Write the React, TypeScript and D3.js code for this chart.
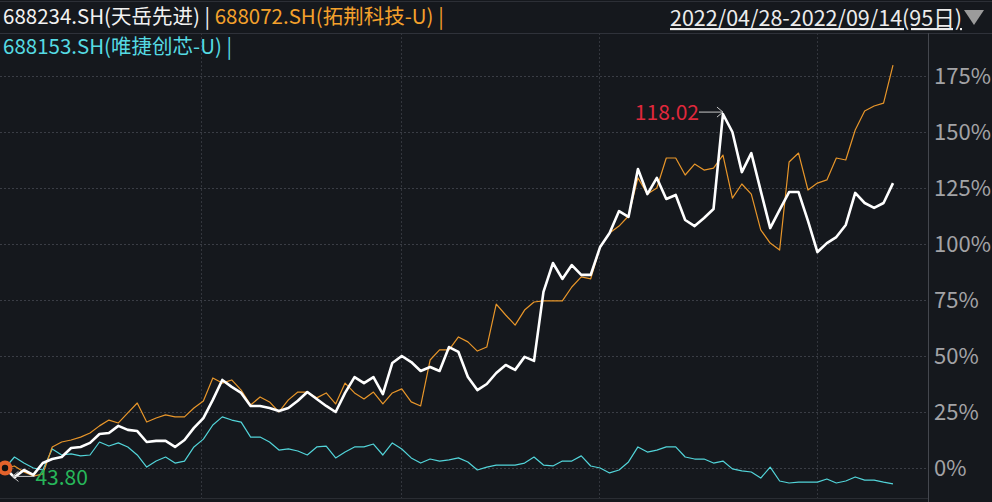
import React, { useEffect, useRef } from 'react';
import * as d3 from 'd3';

// cumulative change (%) since 2022/04/28, one value per trading day
const tianyue = [
  0, -4.2, -0.9, -3.1, 2.2, 4.0, 4.9, 8.9, 9.4, 11.2,
  15.2, 15.6, 18.8, 17.0, 16.5, 11.6, 12.1, 12.1, 9.4, 12.5,
  17.9, 22.3, 30.4, 39.3, 36.2, 33.5, 27.7, 27.7, 26.8, 25.4,
  26.8, 30.0, 33.9, 30.8, 27.7, 25.0, 33.5, 40.6, 37.9, 40.6,
  33.0, 46.9, 50.0, 47.3, 43.3, 45.1, 43.3, 54.0, 51.8, 40.6,
  34.8, 37.5, 42.4, 46.0, 43.8, 49.6, 47.8, 78.6, 91.5, 84.4,
  90.6, 86.2, 86.2, 98.7, 104.9, 114.7, 112.1, 133.5, 122.3, 129.5,
  120.1, 121.9, 110.7, 108.0, 111.6, 115.6, 158.0, 150.0, 132.1, 140.6,
  123.7, 107.1, 115.2, 123.2, 123.2, 110.3, 96.4, 100.4, 103.1, 108.5,
  122.8, 118.3, 116.1, 118.3, 127.2,
];

const tuojing = [
  0, 0.9, -1.8, -3.6, -2.7, 9.4, 11.6, 12.5, 13.8, 15.6,
  18.8, 21.4, 20.1, 24.6, 29.0, 20.5, 22.3, 23.7, 22.8, 22.8,
  26.8, 29.9, 40.2, 37.9, 39.3, 34.8, 28.1, 31.7, 29.5, 25.0,
  30.4, 33.9, 33.9, 31.3, 33.5, 28.6, 37.9, 33.5, 30.8, 33.9,
  28.6, 33.5, 35.3, 29.5, 27.7, 48.2, 52.7, 52.7, 58.5, 56.3,
  52.2, 54.0, 73.2, 68.3, 63.8, 70.5, 74.1, 74.6, 74.6, 74.6,
  80.8, 85.3, 84.4, 98.7, 104.9, 108.0, 112.5, 129.5, 122.3, 125.0,
  138.4, 138.4, 130.8, 135.7, 133.0, 133.9, 139.7, 120.5, 126.8, 122.3,
  106.3, 100.4, 97.3, 136.6, 140.6, 124.1, 127.2, 128.6, 138.4, 137.5,
  150.9, 159.4, 161.6, 162.9, 179.9,
];

const weijie = [
  0, 4.9, 2.2, 0, -0.9, 8.5, 5.8, 6.3, 5.4, 5.8,
  11.6, 9.8, 11.2, 9.4, 5.8, 0.4, 3.1, 4.9, 2.2, 3.1,
  9.4, 12.9, 19.2, 22.8, 21.4, 20.5, 13.8, 13.8, 11.6, 8.0,
  8.5, 7.6, 5.8, 9.4, 9.8, 4.5, 7.1, 9.4, 9.4, 10.7,
  5.8, 11.2, 8.5, 4.5, 2.2, 4.0, 3.1, 3.6, 4.5, 2.7,
  -0.9, 0.4, 1.3, 1.3, 1.3, 2.2, 4.9, 1.3, 0.9, 3.1,
  3.1, 5.4, 0.9, 0, -2.2, -0.9, 2.7, 9.4, 7.1, 8.0,
  9.4, 9.4, 4.9, 4.0, 4.0, 2.2, 3.1, -0.4, -1.3, -1.8,
  -4.5, 0.4, -5.8, -6.7, -6.3, -6.3, -6.3, -4.9, -6.7, -5.8,
  -4.0, -5.4, -5.4, -6.3, -7.1,
];

const yTicks = [0, 25, 50, 75, 100, 125, 150, 175];
// month boundaries (in trading-day index units)
const monthBreaks = [20.8, 41.9, 62.9, 86.0];

const legendRow1 = [
  { text: '688234.SH(天岳先进) | ', color: '#f2f2f2' },
  { text: '688072.SH(拓荆科技-U) |', color: '#f4a12c' },
];
const legendRow2 = [{ text: '688153.SH(唯捷创芯-U) |', color: '#55dbe3' }];
const dateRange = '2022/04/28-2022/09/14(95日)';
const maxLabel = '118.02';
const minLabel = '43.80';

const W = 992;
const H = 502;
const FONT = "'Noto Sans CJK SC', 'Noto Sans', sans-serif";

const Chart: React.FC = () => {
  const svgRef = useRef<SVGSVGElement | null>(null);

  useEffect(() => {
    if (!svgRef.current) return;
    const svg = d3.select(svgRef.current);
    svg.selectAll('*').remove();

    const plot = { left: 0, right: 928, top: 33, bottom: 498 };

    svg.append('rect').attr('width', W).attr('height', H).attr('fill', '#15181d');

    const x = d3.scaleLinear().domain([0, tianyue.length - 1]).range([5, 893]);
    const y = d3.scaleLinear().domain([-13.4, 194.2]).range([plot.bottom, plot.top]);

    // frame
    svg.append('line').attr('x1', 0).attr('x2', W).attr('y1', 1.5).attr('y2', 1.5)
      .attr('stroke', '#2c2f36');
    svg.append('line').attr('x1', 0).attr('x2', W).attr('y1', plot.top + 0.5).attr('y2', plot.top + 0.5)
      .attr('stroke', '#2f323a');
    svg.append('line').attr('x1', plot.right + 0.5).attr('x2', plot.right + 0.5)
      .attr('y1', plot.top).attr('y2', H).attr('stroke', '#44474e');
    svg.append('line').attr('x1', 0).attr('x2', plot.right).attr('y1', plot.bottom + 0.5).attr('y2', plot.bottom + 0.5)
      .attr('stroke', '#2a2d33');

    // grid
    svg.append('g')
      .selectAll('line')
      .data(yTicks)
      .enter()
      .append('line')
      .attr('x1', 0)
      .attr('x2', plot.right)
      .attr('y1', (d) => Math.round(y(d)) + 0.5)
      .attr('y2', (d) => Math.round(y(d)) + 0.5)
      .attr('stroke', '#3a3d45')
      .attr('stroke-dasharray', '2,2');

    svg.append('g')
      .selectAll('line')
      .data(monthBreaks)
      .enter()
      .append('line')
      .attr('x1', (d) => Math.round(x(d)) + 0.5)
      .attr('x2', (d) => Math.round(x(d)) + 0.5)
      .attr('y1', plot.top)
      .attr('y2', plot.bottom)
      .attr('stroke', '#33363d')
      .attr('stroke-dasharray', '2,2');

    // y axis labels
    svg.append('g')
      .selectAll('text')
      .data(yTicks)
      .enter()
      .append('text')
      .attr('x', 934)
      .attr('y', (d) => y(d) + 8)
      .attr('fill', '#a3a3a6')
      .style('font-family', FONT)
      .style('font-size', '22px')
      .text((d) => `${d}%`);

    const line = d3.line<number>().x((_, i) => x(i)).y((d) => y(d));

    const series = [
      { data: weijie, color: '#52d4d9', width: 1.2 },
      { data: tuojing, color: '#e8962a', width: 1.2 },
      { data: tianyue, color: '#ffffff', width: 2.6 },
    ];
    series.forEach((s) => {
      svg.append('path')
        .datum(s.data)
        .attr('fill', 'none')
        .attr('stroke', s.color)
        .attr('stroke-width', s.width)
        .attr('stroke-linejoin', 'round')
        .attr('d', line);
    });

    // max / min annotations on the main series
    const iMax = d3.maxIndex(tianyue);
    const iMin = d3.minIndex(tianyue);
    const mx = x(iMax);
    const my = y(tianyue[iMax]) - 2;
    const ann = svg.append('g').attr('stroke', '#c8c8c8').attr('fill', 'none').attr('stroke-width', 1);
    ann.append('line').attr('x1', mx - 24).attr('x2', mx).attr('y1', my).attr('y2', my);
    ann.append('path').attr('d', `M${mx - 6},${my - 5}L${mx},${my}L${mx - 6},${my + 5}`);
    svg.append('text')
      .attr('x', mx - 24)
      .attr('y', my + 8)
      .attr('text-anchor', 'end')
      .attr('fill', '#e0283c')
      .style('font-family', FONT)
      .style('font-size', '21px')
      .text(maxLabel);

    const nx = x(iMin) - 2;
    const ny = y(tianyue[iMin]) - 1;
    ann.append('line').attr('x1', nx).attr('x2', nx + 22).attr('y1', ny).attr('y2', ny);
    ann.append('path').attr('d', `M${nx + 6},${ny - 5}L${nx},${ny}L${nx + 6},${ny + 5}`);
    svg.append('text')
      .attr('x', nx + 23)
      .attr('y', ny + 9)
      .attr('fill', '#27b65a')
      .style('font-family', FONT)
      .style('font-size', '21px')
      .text(minLabel);

    // start marker
    svg.append('circle').attr('cx', x(0)).attr('cy', y(0)).attr('r', 7.5).attr('fill', '#e3622b');
    svg.append('circle').attr('cx', x(0)).attr('cy', y(0)).attr('r', 3.2).attr('fill', '#111');

    // legend
    const addRow = (items: { text: string; color: string }[], yy: number) => {
      const t = svg.append('text')
        .attr('x', 3)
        .attr('y', yy)
        .attr('xml:space', 'preserve')
        .style('white-space', 'pre')
        .style('font-family', FONT)
        .style('font-size', '20.5px');
      items.forEach((it) => t.append('tspan').attr('fill', it.color).text(it.text));
    };
    addRow(legendRow1, 24);
    addRow(legendRow2, 53.5);

    // date range
    svg.append('text')
      .attr('x', 962)
      .attr('y', 26)
      .attr('text-anchor', 'end')
      .attr('fill', '#ececec')
      .style('font-family', FONT)
      .style('font-size', '21.5px')
      .style('text-decoration', 'underline')
      .text(dateRange);
    svg.append('path').attr('d', 'M964,10L984,10L974,25Z').attr('fill', '#9b9b9b');
  }, []);

  return <svg ref={svgRef} width={W} height={H} style={{ display: 'block' }} />;
};

export default function App() {
  return (
    <div style={{ position: 'absolute', left: 0, top: 0, width: W, height: H, overflow: 'hidden' }}>
      <Chart />
    </div>
  );
}
